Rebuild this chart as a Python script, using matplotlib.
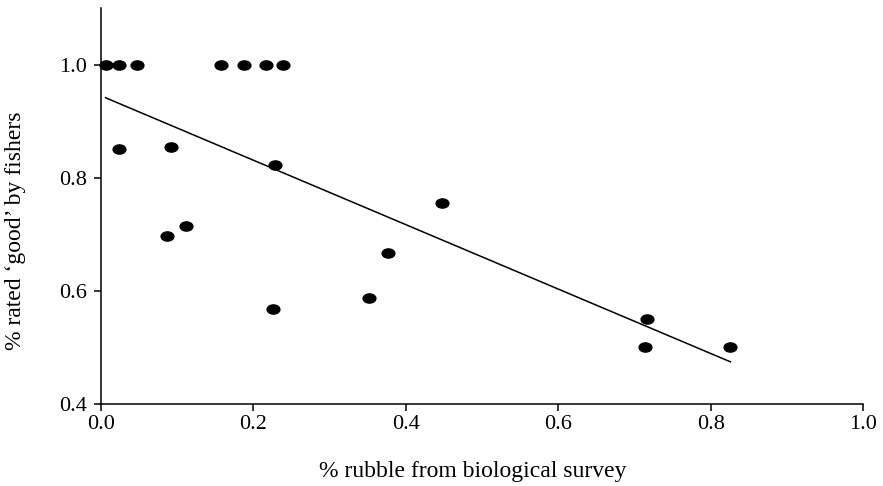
"""Scatter of fisher ratings against rubble cover, with fitted line."""

import matplotlib

matplotlib.use("Agg")
import matplotlib.pyplot as plt
import numpy as np
from matplotlib.markers import MarkerStyle
from matplotlib.path import Path
from matplotlib.transforms import Affine2D

rubble = [0.006, 0.023, 0.047, 0.157, 0.188, 0.216, 0.239,
          0.024, 0.092, 0.228, 0.087, 0.111, 0.226,
          0.448, 0.377, 0.352, 0.716, 0.714, 0.826]
rated_good = [1.0, 1.0, 1.0, 1.0, 1.0, 1.0, 1.0,
              0.850, 0.854, 0.822, 0.696, 0.714, 0.567,
              0.755, 0.667, 0.588, 0.550, 0.500, 0.500]

fit_intercept = 0.945
fit_slope = -0.570

x_ticks = [0.0, 0.2, 0.4, 0.6, 0.8, 1.0]
y_ticks = [0.4, 0.6, 0.8, 1.0]

plt.rcParams["font.family"] = ["Liberation Serif", "DejaVu Serif"]

fig = plt.figure(figsize=(8.83, 4.86), dpi=100)
ax = fig.add_axes([0.1144, 0.1693, 0.8629, 0.8137])

oval = MarkerStyle(Path.unit_circle().transformed(Affine2D().scale(1.0, 0.72)))
ax.plot(rubble, rated_good, linestyle="none", marker=oval, markersize=9.2,
        color="black", clip_on=False, zorder=3)

fit_x = np.array([min(rubble), max(rubble)])
ax.plot(fit_x, fit_intercept + fit_slope * fit_x, color="black", linewidth=1.1)

ax.set_xlim(0.0, 1.0)
ax.set_ylim(0.4, 1.1)
ax.set_xticks(x_ticks)
ax.set_yticks(y_ticks)
ax.set_xticklabels([f"{t:.1f}" for t in x_ticks])
ax.set_yticklabels([f"{t:.1f}" for t in y_ticks])

for side in ("top", "right"):
    ax.spines[side].set_visible(False)
for side in ("left", "bottom"):
    ax.spines[side].set_linewidth(1.1)

ax.tick_params(axis="both", direction="out", length=5, width=1.1,
               labelsize=16, colors="black")
ax.tick_params(axis="x", pad=3)
ax.tick_params(axis="y", pad=5)

ax.set_xlabel("% rubble from biological survey", fontsize=17)
ax.set_ylabel("% rated \u2018good\u2019 by fishers", fontsize=17)
ax.xaxis.set_label_coords(0.488, -0.172)
ax.yaxis.set_label_coords(-0.112, 0.437)
ax.xaxis.label.set_verticalalignment("center")
ax.yaxis.label.set_verticalalignment("center")

fig.savefig("out.png", dpi=100)
